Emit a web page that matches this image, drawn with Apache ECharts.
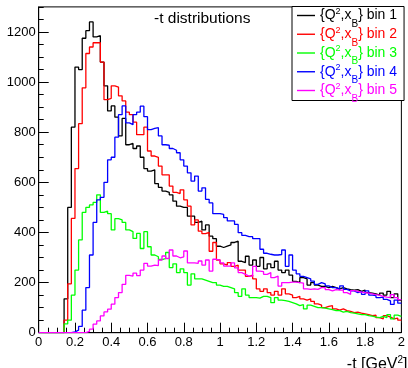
<!DOCTYPE html>
<html>
<head>
<meta charset="utf-8">
<script src="https://cdn.jsdelivr.net/npm/echarts@6/dist/echarts.min.js"></script>
<style>
html,body{margin:0;padding:0;background:#fff;}
#chart{width:408px;height:368px;}
</style>
</head>
<body>
<div id="chart"></div>
<script>
// Histogram of -t, 100 bins of width 0.02 GeV^2 from 0 to 2
const tMin = 0, tMax = 2, binWidth = 0.02;
const xTicks = ["0","0.2","0.4","0.6","0.8","1","1.2","1.4","1.6","1.8","2"];
const yTicks = [0, 200, 400, 600, 800, 1000, 1200];

const seriesNames = ["bin 1", "bin 2", "bin 3", "bin 4", "bin 5"];
const seriesColors = ["#000000", "#ff0000", "#00ff00", "#0000ff", "#ff00ff"];

const bin1 = [0,0,0,0,0,0,0,135,500,820,
  1060,1050,1175,1205,1240,1180,1185,1080,985,885,
  905,860,785,855,750,755,735,745,700,655,
  645,650,595,580,565,560,550,525,505,500,
  500,465,465,440,445,410,430,385,375,345,
  340,345,350,360,365,285,280,305,270,290,
  265,300,255,275,260,285,250,240,250,230,
  205,200,220,215,190,200,190,185,185,180,
  185,180,175,180,175,172,170,172,165,170,
  160,158,155,150,158,150,165,140,155,130];

const bin2 = [0,0,0,0,0,0,0,50,195,456,
  655,834,977,1114,1140,1157,1157,1080,930,935,
  985,980,945,925,880,870,840,790,790,820,
  725,705,700,665,630,630,585,560,555,570,
  530,505,430,450,405,395,400,325,360,290,
  275,270,280,265,270,250,250,225,230,215,
  175,165,175,160,150,165,150,175,155,150,
  140,145,135,130,135,125,115,110,100,105,
  108,95,90,95,88,85,80,82,78,75,
  72,68,70,60,55,68,62,55,58,50];

const bin3 = [0,0,0,0,0,0,0,35,50,150,
  250,370,480,500,510,520,550,480,485,475,
  410,455,450,440,410,403,376,396,336,403,
  343,310,303,292,296,320,260,275,240,255,
  240,190,235,215,215,210,205,200,200,190,
  185,185,180,175,160,145,175,150,140,140,
  138,145,145,140,120,140,130,128,125,120,
  115,108,112,95,110,105,100,100,98,95,
  92,88,88,82,85,80,78,75,72,72,
  68,66,62,60,65,60,72,55,70,65];

const bin4 = [0,0,0,0,0,0,0,0,0,3,
  10,25,90,180,310,440,530,540,600,690,
  700,780,870,905,837,830,870,880,904,862,
  810,815,818,785,750,748,735,728,718,690,
  665,638,605,625,565,578,532,518,475,475,
  472,459,446,446,432,399,388,383,383,375,
  375,333,317,313,310,310,312,330,265,310,
  250,235,225,220,215,206,193,200,195,187,
  180,180,173,187,173,167,167,160,165,153,
  167,150,148,140,142,133,127,113,130,118];

const bin5 = [0,0,0,0,0,0,0,0,0,0,
  0,0,0,5,14,34,47,67,83,94,
  114,140,160,193,229,226,238,228,250,277,
  266,270,268,290,306,296,330,306,299,303,
  326,279,279,277,286,270,290,246,293,290,
  279,266,266,279,259,240,233,226,226,265,
  246,244,233,240,220,226,186,200,200,202,
  202,200,198,175,173,175,173,180,180,172,
  167,172,170,170,160,153,168,165,162,160,
  158,155,152,150,145,142,140,152,140,132];

const allCounts = [bin1, bin2, bin3, bin4, bin5];

function toSteps(counts) {
  const pts = counts.map((v, i) => [+(tMin + i * binWidth).toFixed(4), v]);
  pts.push([tMax, counts[counts.length - 1]]);
  return pts;
}

const FONT = "'Liberation Sans', Arial, Helvetica, sans-serif";
const LH = 18;

const rich = {};
seriesColors.forEach((c, i) => {
  rich['m' + i] = { color: c, fontSize: 14, lineHeight: LH, fontFamily: FONT };
  rich['s' + i] = { color: c, fontSize: 9, lineHeight: LH, fontFamily: FONT, verticalAlign: 'top', height: 10 };
  rich['b' + i] = { color: c, fontSize: 10, lineHeight: LH, fontFamily: FONT, verticalAlign: 'bottom', height: 1 };
});

const chart = echarts.init(document.getElementById('chart'), null, { renderer: 'canvas' });
chart.setOption({
  animation: false,
  backgroundColor: '#ffffff',
  title: {
    text: '-t distributions',
    left: 154, top: 11, padding: 0,
    textStyle: { fontSize: 15.5, fontWeight: 'normal', color: '#000', fontFamily: FONT }
  },
  grid: {
    left: 38.7, right: 0.7, top: 6.9, bottom: 35.3,
    show: true, borderColor: '#000', borderWidth: 1, backgroundColor: 'transparent'
  },
  legend: {
    orient: 'vertical', left: 292, top: 6.5,
    padding: [0, 7, -3.5, 5],
    icon: 'rect',
    itemWidth: 18, itemHeight: 1.4, itemGap: -3.75,
    borderColor: '#000', borderWidth: 1, backgroundColor: '#fff',
    selectedMode: false,
    data: seriesNames.map((n, i) => ({ name: n, textStyle: { color: seriesColors[i] }, itemStyle: { color: seriesColors[i] } })),
    formatter: function (name) {
      const i = seriesNames.indexOf(name);
      return '{Q{s' + i + '|2},x{b' + i + '|B}} ' + name;
    },
    textStyle: { fontSize: 14, lineHeight: LH, fontFamily: FONT, rich: rich }
  },
  xAxis: [{
    type: 'value', min: tMin, max: tMax, interval: 0.2,
    axisLine: { show: true, lineStyle: { color: '#000', width: 1 } },
    axisTick: { show: true, inside: true, length: 10, lineStyle: { color: '#000' } },
    minorTick: { show: true, splitNumber: 4, length: 5, lineStyle: { color: '#000' } },
    axisLabel: {
      margin: 3, fontSize: 13, color: '#000', fontFamily: FONT,
      formatter: function (v) { return xTicks[Math.round(v / 0.2)]; }
    },
    splitLine: { show: false }
  }],
  yAxis: [{
    type: 'value', min: 0, max: 1300, interval: 200,
    axisLine: { show: true, lineStyle: { color: '#000', width: 1 } },
    axisTick: { show: true, inside: true, length: 10, lineStyle: { color: '#000' } },
    axisLabel: {
      margin: 3, fontSize: 13, color: '#000', fontFamily: FONT, showMaxLabel: false,
      formatter: function (v) { return yTicks.indexOf(v) >= 0 ? String(v) : ''; }
    },
    splitLine: { show: false }
  }, {
    type: 'value', min: 0, max: 1300, interval: 50, position: 'left',
    axisLine: { show: false },
    axisTick: { show: true, inside: true, length: 5, lineStyle: { color: '#000' } },
    axisLabel: { show: false },
    splitLine: { show: false }
  }],
  series: allCounts.map((counts, i) => ({
    name: seriesNames[i],
    type: 'line',
    step: 'end',
    symbol: 'none',
    data: toSteps(counts),
    lineStyle: { color: seriesColors[i], width: 1.3 },
    itemStyle: { color: seriesColors[i] },
    emphasis: { disabled: true }
  })),
  graphic: [{
    type: 'text', right: 0.5, top: 355,
    style: {
      text: '-t [GeV{s|2}]',
      fontSize: 16, fontFamily: FONT, fill: '#000',
      rich: { s: { fontSize: 10, fontFamily: FONT, fill: '#000', padding: [0, 0, 9, 0] } }
    }
  }]
});
</script>
</body>
</html>
